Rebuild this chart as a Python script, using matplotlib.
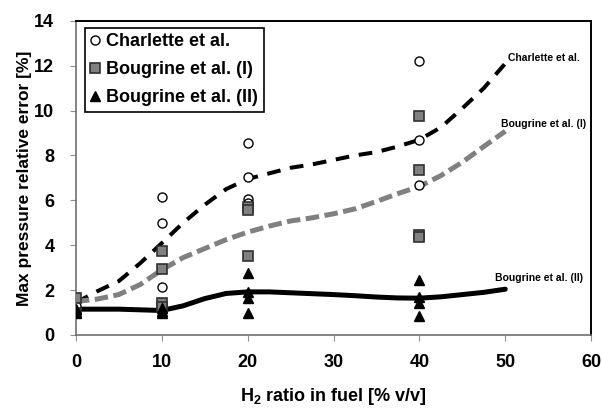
import numpy as np
import matplotlib
matplotlib.use("Agg")
import matplotlib.pyplot as plt

plt.rcParams['font.family'] = ['Liberation Sans', 'DejaVu Sans']
plt.rcParams['mathtext.fontset'] = 'custom'
plt.rcParams['mathtext.rm'] = 'Liberation Sans:bold'
plt.rcParams['mathtext.bf'] = 'Liberation Sans:bold'

# measured points
char_x = [0, 10, 10, 10, 20, 20, 20, 20, 40, 40, 40]
char_y = [1.3, 6.17, 4.97, 2.13, 8.57, 7.05, 6.06, 5.9, 12.2, 8.7, 6.7]

boug1_x = [0, 0, 10, 10, 10, 10, 20, 20, 20, 40, 40, 40, 40]
boug1_y = [1.65, 1.0, 3.72, 2.93, 1.41, 1.25, 5.7, 5.55, 3.54, 9.78, 7.33, 4.45, 4.35]

boug2_x = [0, 0, 10, 10, 10, 20, 20, 20, 20, 40, 40, 40, 40]
boug2_y = [1.15, 1.0, 1.2, 1.05, 0.97, 2.78, 1.93, 1.64, 0.97, 2.46, 1.71, 1.41, 0.85]

# trend curves
curve_x = [0, 2.5, 5, 7.5, 10, 12.5, 15, 17.5, 20, 22.5, 25, 27.5, 30,
           32.5, 35, 37.5, 40, 42.5, 45, 47.5, 50]
char_fit = [1.44, 1.95, 2.4, 3.2, 4.09, 5.0, 5.8, 6.5, 6.95, 7.2, 7.45, 7.6, 7.8,
            8.0, 8.15, 8.4, 8.7, 9.25, 10.1, 11.0, 12.1]
boug1_fit = [1.49, 1.6, 1.8, 2.25, 2.9, 3.45, 3.85, 4.25, 4.58, 4.85, 5.08, 5.22, 5.4,
             5.62, 5.95, 6.3, 6.62, 7.1, 7.7, 8.4, 9.08]
boug2_fit = [1.15, 1.15, 1.15, 1.12, 1.09, 1.3, 1.62, 1.85, 1.92, 1.92, 1.88, 1.84, 1.8,
             1.75, 1.69, 1.65, 1.64, 1.7, 1.8, 1.9, 2.04]

fig = plt.figure(figsize=(6.02, 4.08), dpi=100)
ax = fig.add_axes([0.126, 0.179, 0.856, 0.77])

ax.plot(curve_x, char_fit, color='black', lw=2.9, linestyle=(0, (3.4, 2.4)),
        dash_capstyle='butt', zorder=2)
ax.plot(curve_x, boug1_fit, color='#808080', lw=3.6, linestyle=(0, (2.7, 1.1)),
        dash_capstyle='butt', zorder=2)
ax.plot(curve_x, boug2_fit, color='black', lw=3.6, solid_capstyle='round', zorder=2)

ax.plot(char_x, char_y, 'o', ms=6.5, mfc='white', mec='black', mew=1.0,
        label='Charlette et al.', zorder=3)
ax.plot(boug1_x, boug1_y, 's', ms=6.5, mfc='#808080', mec='#303030', mew=1.2,
        label='Bougrine et al. (I)', zorder=3)
ax.plot(boug2_x, boug2_y, '^', ms=7.5, mfc='black', mec='black',
        label='Bougrine et al. (II)', zorder=4)

ax.text(50.3, 12.1, 'Charlette et al.', fontsize=7.5, fontweight='bold', ha='left', va='bottom')
ax.text(49.5, 9.2, 'Bougrine et al. (I)', fontsize=7.5, fontweight='bold', ha='left', va='bottom')
ax.text(48.8, 2.3, 'Bougrine et al. (II)', fontsize=7.5, fontweight='bold', ha='left', va='bottom')

ax.set_xlim(0, 60)
ax.set_ylim(0, 14)
ax.set_xticks(range(0, 61, 10))
ax.set_yticks(range(0, 15, 2))
ax.tick_params(axis='both', direction='out', length=4.5, width=0.8, color='#909090',
               labelsize=13)
ax.tick_params(axis='y', pad=11)
ax.tick_params(axis='x', pad=9)
for lab in ax.get_xticklabels() + ax.get_yticklabels():
    lab.set_fontweight('bold')

for s in ['left', 'bottom']:
    ax.spines[s].set_color('#707070')
    ax.spines[s].set_linewidth(1.2)
for s in ['top', 'right']:
    ax.spines[s].set_color('black')
    ax.spines[s].set_linewidth(1.4)

ax.set_xlabel(r'H$_{2}$ ratio in fuel [% v/v]', fontsize=13, fontweight='bold')
ax.set_ylabel('Max pressure relative error [%]', fontsize=12.5, fontweight='bold')
ax.xaxis.set_label_coords(0.5, -0.163)
ax.yaxis.set_label_coords(-0.085, 0.5)

leg = ax.legend(loc='upper left', bbox_to_anchor=(0.01, 0.99), fontsize=13,
                handlelength=0.6, handletextpad=0.3, borderpad=0.3, labelspacing=0.62,
                fancybox=False, framealpha=1, borderaxespad=0.2)
leg.get_frame().set_edgecolor('black')
leg.get_frame().set_linewidth(1.2)
for t in leg.get_texts():
    t.set_fontweight('bold')

fig.savefig('out.png', dpi=100)
